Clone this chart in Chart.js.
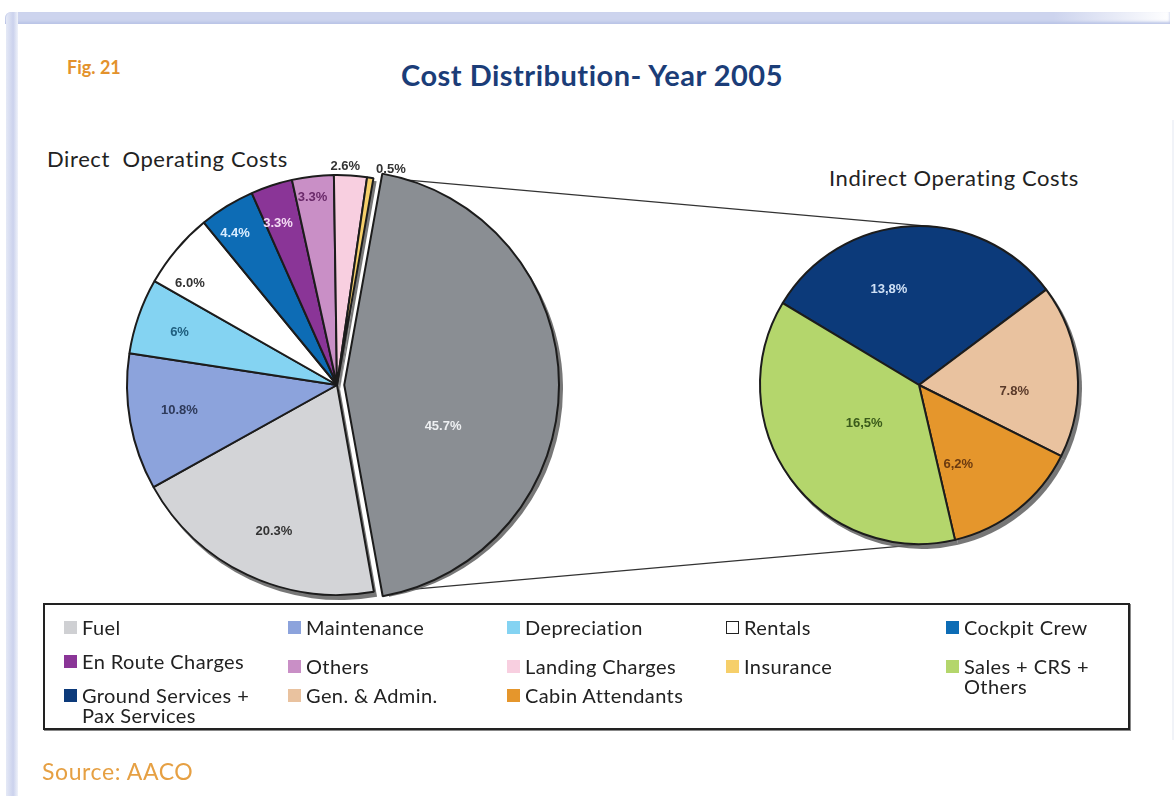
<!DOCTYPE html>
<html>
<head>
<meta charset="utf-8">
<script src="https://cdn.jsdelivr.net/npm/chart.js@4.4.0/dist/chart.umd.min.js"></script>
<style>
  body { margin: 0; width: 1176px; height: 796px; background: #fff; position: relative; overflow: hidden; font-family: Lato, "DejaVu Sans", sans-serif; color: #222; }
  .frame-top { position: absolute; left: 5px; top: 12px; width: 1165px; height: 12px;
    background: linear-gradient(to right, #cdd4ee 0%, #cdd4ee 90%, rgba(205,212,238,0) 100%);
    box-shadow: inset 0 -2px 3px #b9c3e6; border-radius: 6px 0 0 0; }
  .frame-left { position: absolute; left: 6px; top: 12px; width: 12px; height: 790px;
    background: linear-gradient(to right, #e5e9f6, #cbd2ed 60%, #eff2fa); border-radius: 6px 0 0 0; }
  .frame-right { position: absolute; left: 1172px; top: 120px; width: 2px; height: 620px; background: #f1f3f8; }
  .fig { position: absolute; left: 67px; top: 56px; font: bold 18px Lato, sans-serif; color: #e3922c; }
  .title { position: absolute; left: 0; width: 1184px; top: 57px; text-align: center; font: bold 29px Lato, sans-serif; letter-spacing: 0.5px; color: #1b3d78; }
  .sub { position: absolute; font-size: 22px; letter-spacing: 0.6px; color: #222; white-space: pre; }
  .source { position: absolute; left: 42px; top: 757px; font-size: 23px; letter-spacing: 0.6px; color: #e6a043; }
  canvas { position: absolute; }
  #links { left: 0; top: 0; }
  #direct { left: 97px; top: 145px; }
  #indirect { left: 739px; top: 205px; }
  #legend { position: absolute; left: 43px; top: 603px; width: 1083px; height: 123px; border: 2px solid #222; box-shadow: 1px 1px 0 #888; }
  .item { position: absolute; display: flex; align-items: flex-start; font-size: 20px; letter-spacing: 0.4px; line-height: 20px; color: #222; }
  .sw { width: 13px; height: 13px; margin: 4px 5px 0 0; flex: none; }
</style>
</head>
<body>
<div class="frame-top"></div>
<div class="frame-left"></div>
<div class="frame-right"></div>
<div class="fig">Fig. 21</div>
<div class="title">Cost Distribution- Year 2005</div>
<div class="sub" style="left:47px; top:145px;">Direct  Operating Costs</div>
<div class="sub" style="left:829px; top:164px;">Indirect Operating Costs</div>

<canvas id="links" width="1176" height="796"></canvas>
<canvas id="direct" width="480" height="480"></canvas>
<canvas id="indirect" width="360" height="360"></canvas>

<div id="legend"></div>
<div class="source">Source: AACO</div>

<script>
// direct costs, first slice is the indirect total that gets broken out on the right
var directLabels = ['Indirect Operating Costs', 'Fuel', 'Maintenance', 'Depreciation', 'Rentals',
    'Cockpit Crew', 'En Route Charges', 'Others', 'Landing Charges', 'Insurance'];
var directValues = [45.7, 20.3, 10.8, 6, 6.0, 4.4, 3.3, 3.3, 2.6, 0.5];
var directColors = ['#8a8e93', '#d3d4d7', '#8ca3dc', '#84d3f2', '#ffffff',
    '#0d6cb5', '#8a3597', '#c98fc6', '#f8cfe0', '#f6cf6a'];

var indirectLabels = ['Ground Services + Pax Services', 'Gen. & Admin.', 'Cabin Attendants', 'Sales + CRS + Others'];
var indirectValues = [13.8, 7.8, 6.2, 16.5];
var indirectColors = ['#0c3a7a', '#e9c29f', '#e5962c', '#b4d66c'];

// how each value is printed (decimals, separator)
var directFormat = [[1, '.'], [1, '.'], [1, '.'], [0, '.'], [1, '.'], [1, '.'], [1, '.'], [1, '.'], [1, '.'], [1, '.']];
var indirectFormat = [[1, ','], [1, '.'], [1, ','], [1, ',']];

// label placement inside each slice: [fraction of sweep, fraction of radius], plus colour
var directLabelPos = [[0.65, 0.49], [0.47, 0.76], [0.53, 0.76], [0.46, 0.79], [0.23, 0.85],
    [0.35, 0.87], [0.34, 0.82], [0.43, 0.90], [0.33, 1.04], [3.3, 1.06]];
var directLabelColors = ['#eef0f2', '#333', '#2e3a5a', '#1f5e7e', '#333',
    '#d8ecff', '#f4dcf4', '#6a2a6a', '#333', '#333'];
var indirectLabelPos = [[0.37, 0.63], [0.64, 0.60], [0.74, 0.56], [0.51, 0.42]];
var indirectLabelColors = ['#cfe0f5', '#5a3a2a', '#6a3a10', '#3a5a1a'];

// legend columns, top to bottom
var legendColumns = [
    ['Fuel', 'En Route Charges', 'Ground Services + Pax Services'],
    ['Maintenance', 'Others', 'Gen. & Admin.'],
    ['Depreciation', 'Landing Charges', 'Cabin Attendants'],
    ['Rentals', 'Insurance'],
    ['Cockpit Crew', 'Sales + CRS + Others']
];

// same displacement ArcElement.draw applies for options.offset
function arcShift(arc) {
    var off = (arc.options.offset || 0) / 4;
    var circ = arc.endAngle - arc.startAngle;
    var fix = 1 - Math.sin(Math.min(Math.PI, circ || 0));
    var d = off * (1 + fix);
    var mid = (arc.startAngle + arc.endAngle) / 2;
    return [Math.cos(mid) * d, Math.sin(mid) * d];
}

var shadowPlugin = {
    id: 'shadow',
    beforeDatasetsDraw: function(chart) {
        var ctx = chart.ctx;
        ctx.save();
        ctx.fillStyle = 'rgba(95,95,95,0.85)';
        chart.getDatasetMeta(0).data.forEach(function(arc) {
            var s = arcShift(arc);
            var x = arc.x + s[0] + 3, y = arc.y + s[1] + 4;
            ctx.beginPath();
            ctx.moveTo(x, y);
            ctx.arc(x, y, arc.outerRadius + 1, arc.startAngle, arc.endAngle);
            ctx.closePath();
            ctx.fill();
        });
        ctx.restore();
    }
};

var valueLabels = {
    id: 'valueLabels',
    afterDatasetsDraw: function(chart, args, opts) {
        var ctx = chart.ctx;
        var values = chart.data.datasets[0].data;
        ctx.save();
        ctx.font = 'bold 13px "Liberation Sans", Arial, sans-serif';
        ctx.textAlign = 'center';
        ctx.textBaseline = 'middle';
        chart.getDatasetMeta(0).data.forEach(function(arc, i) {
            var s = arcShift(arc);
            var p = opts.pos[i];
            var a = arc.startAngle + p[0] * (arc.endAngle - arc.startAngle);
            var r = arc.outerRadius * p[1];
            var f = opts.format[i];
            var txt = values[i].toFixed(f[0]).replace('.', f[1]) + '%';
            ctx.fillStyle = opts.colors[i];
            ctx.fillText(txt, arc.x + s[0] + Math.cos(a) * r, arc.y + s[1] + Math.sin(a) * r);
        });
        ctx.restore();
    }
};

function pieConfig(labels, values, colors, offsets, rotation, radius, pos, format, labelColors) {
    return {
        type: 'pie',
        data: {
            labels: labels,
            datasets: [{
                data: values,
                backgroundColor: colors,
                borderColor: '#1c1c1c',
                borderWidth: 2,
                offset: offsets
            }]
        },
        options: {
            responsive: false,
            animation: false,
            devicePixelRatio: 1,
            rotation: rotation,
            radius: radius,
            events: [],
            plugins: {
                legend: { display: false },
                tooltip: { enabled: false },
                valueLabels: { pos: pos, format: format, colors: labelColors }
            }
        },
        plugins: [shadowPlugin, valueLabels]
    };
}

var directChart = new Chart(document.getElementById('direct'),
    pieConfig(directLabels, directValues, directColors, [29, 0, 0, 0, 0, 0, 0, 0, 0, 0], 10, 210,
        directLabelPos, directFormat, directLabelColors));

var indirectChart = new Chart(document.getElementById('indirect'),
    pieConfig(indirectLabels, indirectValues, indirectColors, 0, -59, 159,
        indirectLabelPos, indirectFormat, indirectLabelColors));

// lines from the broken-out slice to tangents of the second pie
function drawConnectors() {
    var cv = document.getElementById('links');
    var ctx = cv.getContext('2d');
    var dEl = document.getElementById('direct'), iEl = document.getElementById('indirect');
    var arc = directChart.getDatasetMeta(0).data[0];
    var s = arcShift(arc);
    var ox = dEl.offsetLeft + arc.x + s[0], oy = dEl.offsetTop + arc.y + s[1];
    var R = arc.outerRadius;
    var c = indirectChart.getDatasetMeta(0).data[0];
    var cx = iEl.offsetLeft + c.x, cy = iEl.offsetTop + c.y, r = c.outerRadius;

    function tangent(px, py, side) {
        var dx = cx - px, dy = cy - py;
        var d = Math.sqrt(dx * dx + dy * dy);
        var ang = Math.atan2(dy, dx) + side * Math.asin(r / d);
        var len = Math.sqrt(d * d - r * r);
        return [px + Math.cos(ang) * len, py + Math.sin(ang) * len];
    }

    var p1 = [ox + Math.cos(arc.startAngle) * R, oy + Math.sin(arc.startAngle) * R];
    var p2 = [ox + Math.cos(arc.endAngle) * R, oy + Math.sin(arc.endAngle) * R];
    var t1 = tangent(p1[0], p1[1], -1);
    var t2 = tangent(p2[0], p2[1], 1);

    ctx.strokeStyle = '#333';
    ctx.lineWidth = 1.3;
    ctx.beginPath();
    ctx.moveTo(p1[0], p1[1]); ctx.lineTo(t1[0], t1[1]);
    ctx.moveTo(p2[0], p2[1]); ctx.lineTo(t2[0], t2[1]);
    ctx.stroke();
}
drawConnectors();

function buildLegend() {
    var colorOf = {};
    directLabels.forEach(function(l, i) { colorOf[l] = directColors[i]; });
    indirectLabels.forEach(function(l, i) { colorOf[l] = indirectColors[i]; });
    colorOf['Fuel'] = '#cfd0d3';
    var box = document.getElementById('legend');
    var colLeft = [19, 243, 462, 681, 901];
    var rowTop = [12, 46, 80];
    var colWidth = [200, 205, 205, 205, 170];
    legendColumns.forEach(function(col, ci) {
        col.forEach(function(name, ri) {
            var item = document.createElement('div');
            item.className = 'item';
            item.style.left = colLeft[ci] + 'px';
            item.style.top = (rowTop[ri] + (ri === 1 && ci > 0 ? 5 : 0)) + 'px';
            item.style.width = colWidth[ci] + 'px';
            var sw = document.createElement('span');
            sw.className = 'sw';
            sw.style.background = colorOf[name];
            if (colorOf[name] === '#ffffff') {
                sw.style.border = '1px solid #222';
                sw.style.width = '11px';
                sw.style.height = '11px';
            }
            var tx = document.createElement('span');
            tx.textContent = name;
            item.appendChild(sw);
            item.appendChild(tx);
            box.appendChild(item);
        });
    });
}
buildLegend();
</script>
</body>
</html>
